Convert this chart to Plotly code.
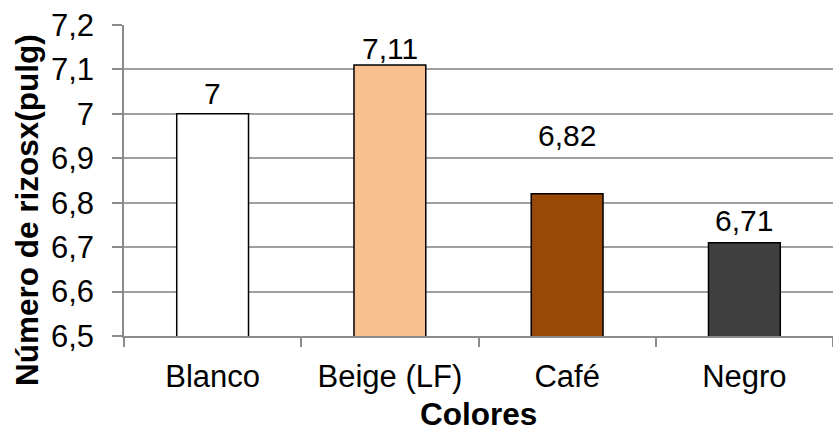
import plotly.graph_objects as go

# Average number of rhizomes per colour group
colores = ["Blanco", "Beige (LF)", "Café", "Negro"]
valores = [7.00, 7.11, 6.82, 6.71]
etiquetas = ["7", "7,11", "6,82", "6,71"]

# Styling
bar_colors = ["#FFFFFF", "#F9C08F", "#984807", "#404040"]
label_shift = [2, -2, 40, 4]  # vertical offset of each value label, px

FONT = "Liberation Sans, Arial, sans-serif"
TICK_SIZE = 31
LABEL_SIZE = 30
TITLE_SIZE = 31.5

fig = go.Figure(
    go.Bar(
        x=colores,
        y=valores,
        width=0.405,
        marker=dict(color=bar_colors, line=dict(color="#000000", width=1.5)),
        showlegend=False,
        hoverinfo="skip",
    )
)

# value labels above the bars
for cat, val, txt, dy in zip(colores, valores, etiquetas, label_shift):
    fig.add_annotation(
        x=cat, y=val, text=txt, showarrow=False,
        yanchor="bottom", yshift=dy,
        font=dict(family=FONT, size=LABEL_SIZE, color="#000000"),
    )

# axis titles
fig.add_annotation(
    text="<b>Colores</b>", xref="paper", yref="paper", x=0.5, y=0,
    xanchor="center", yanchor="top", yshift=-59, borderpad=0, showarrow=False,
    font=dict(family=FONT, size=TITLE_SIZE, color="#000000"),
)
fig.add_annotation(
    text="<b>Número de rizosx(pulg)</b>", xref="paper", yref="paper", x=0, y=0.405,
    xanchor="center", yanchor="middle", xshift=-97, textangle=-90, showarrow=False,
    font=dict(family=FONT, size=TITLE_SIZE, color="#000000"),
)

fig.update_layout(
    width=833, height=432,
    margin=dict(l=124, r=0, t=25, b=96),
    paper_bgcolor="#FFFFFF", plot_bgcolor="#FFFFFF",
    separators=",.",
    font=dict(family=FONT, color="#000000"),
    bargap=0.595,
)

fig.update_xaxes(
    range=[-0.5, 3.5],
    showline=True, linecolor="#8C8C8C", linewidth=1.5,
    ticks="outside", tickson="boundaries", ticklen=9, tickcolor="#8C8C8C", tickwidth=1.5,
    tickfont=dict(family=FONT, size=TICK_SIZE, color="#000000"),
    ticklabelstandoff=12,
    showgrid=False,
    automargin=False,
)

fig.update_yaxes(
    range=[6.5, 7.2],
    tickvals=[6.5, 6.6, 6.7, 6.8, 6.9, 7.0, 7.1, 7.2],
    ticktext=["6,5", "6,6", "6,7", "6,8", "6,9", "7", "7,1", "7,2"],
    showline=True, linecolor="#8C8C8C", linewidth=1.5,
    ticks="outside", ticklen=10, tickcolor="#8C8C8C", tickwidth=1.5,
    showgrid=True, gridcolor="#A0A0A0", gridwidth=1.5,
    tickfont=dict(family=FONT, size=TICK_SIZE, color="#000000"),
    ticklabelstandoff=12,
    zeroline=False,
    automargin=False,
)

fig.write_html("out.html")
